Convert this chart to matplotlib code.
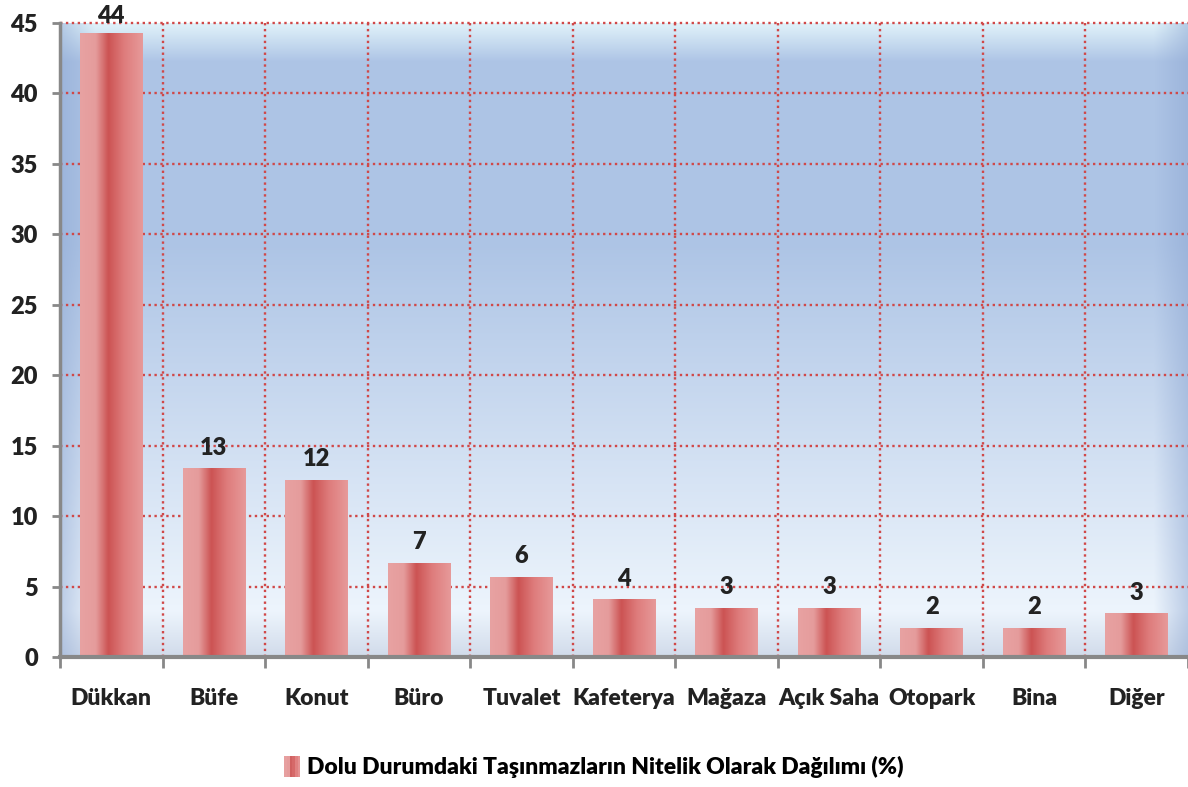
import numpy as np
import matplotlib
matplotlib.use("Agg")
import matplotlib.pyplot as plt
from matplotlib.colors import LinearSegmentedColormap
from matplotlib.patches import Rectangle
from matplotlib.legend_handler import HandlerBase

categories = ["Dükkan", "Büfe", "Konut", "Büro", "Tuvalet", "Kafeterya",
              "Mağaza", "Açık Saha", "Otopark", "Bina", "Diğer"]
values = [44.3, 13.4, 12.6, 6.7, 5.7, 4.1, 3.5, 3.5, 2.1, 2.1, 3.1]
labels = ["44", "13", "12", "7", "6", "4", "3", "3", "2", "2", "3"]
series_name = "Dolu Durumdaki Taşınmazların Nitelik Olarak Dağılımı (%)"

plt.rcParams["font.family"] = ["Lato", "DejaVu Sans"]
plt.rcParams["font.weight"] = "heavy"
W = "heavy"

bar_cmap = LinearSegmentedColormap.from_list(
    "bar", [(0.0, "#e8a2a2"), (0.25, "#e59c9c"), (0.45, "#cc5353"),
            (0.7, "#de7c7c"), (1.0, "#e79a9a")])

fig = plt.figure(figsize=(11.88, 7.87), dpi=100)
ax = fig.add_axes([0.0505, 0.165, 0.9495, 0.8058])

# background gradient of the plot area
ny, nx = 200, 400
top = np.array([0.88, 0.95, 0.98])
mid = np.array([0.68, 0.77, 0.90])
low = np.array([0.93, 0.96, 0.99])
bot = np.array([0.82, 0.86, 0.92])
rows = []
for v in np.linspace(0, 1, ny):
    if v < 0.06:
        c = top + (mid - top) * (v / 0.06)
    elif v < 0.35:
        c = mid
    elif v < 0.93:
        c = mid + (low - mid) * ((v - 0.35) / 0.58)
    else:
        c = low + (bot - low) * ((v - 0.93) / 0.07)
    rows.append(c)
bg = np.repeat(np.array(rows)[:, None, :], nx, axis=1)
xs = np.linspace(0, 1, nx)
edge = np.clip(1 - np.maximum((0.03 - xs) / 0.03, (xs - 0.97) / 0.03), 0, 1)
shade = np.array([0.55, 0.65, 0.82])
w = (1 - edge)[None, :, None] * 0.5
bg = bg * (1 - w) + shade * w
ax.imshow(bg, extent=[-0.5, 10.5, 0, 45], aspect="auto", zorder=0,
          interpolation="bilinear")

x = np.arange(len(categories))
bars = ax.bar(x, values, width=0.61, color="none", zorder=3)
grad = np.linspace(0, 1, 256)[None, :]
for b in bars:
    im = ax.imshow(grad, cmap=bar_cmap, aspect="auto", zorder=3,
                   extent=[b.get_x(), b.get_x() + b.get_width(), 0, b.get_height()])
    im.set_clip_path(b)

ymax = 45
for xi, v, lab in zip(x, values, labels):
    off = 7 if v < 0.9 * ymax else 4  # keep the top label inside the figure
    ax.annotate(lab, (xi, v), xytext=(0, off), textcoords="offset points",
                ha="center", va="bottom", fontsize=17, fontweight=W,
                color="#222222", zorder=5, annotation_clip=False)

ax.set_xlim(-0.5, 10.5)
ax.set_ylim(0, ymax)
ax.set_yticks(np.arange(0, 46, 5))
ax.set_xticks(x)
ax.set_xticklabels(categories, fontsize=16.5, fontweight=W, color="#222222")
ax.set_xticks(np.arange(-0.5, 10.6, 1), minor=True)
ax.tick_params(axis="x", which="major", length=0, pad=22)
ax.tick_params(axis="x", which="minor", length=8, width=2, color="#888888", direction="out")
ax.tick_params(axis="y", length=6, width=2, color="#888888", labelsize=17,
               labelcolor="#222222", pad=10)
for lab in ax.get_yticklabels():
    lab.set_fontweight(W)

ax.grid(False)
for yv in np.arange(5, 46, 5):
    ax.axhline(yv, color="#d04848", lw=1.7, ls=(0, (1, 1.5)), zorder=2, clip_on=False)
for xv in np.arange(0.5, 10.5, 1):
    ax.axvline(xv, color="#d04848", lw=1.7, ls=(0, (1, 1.5)), zorder=2)

for s in ["top", "right"]:
    ax.spines[s].set_visible(False)
ax.spines["left"].set_color("#888888")
ax.spines["left"].set_linewidth(2.5)
ax.spines["bottom"].set_color("#888888")
ax.spines["bottom"].set_linewidth(3)
ax.spines["left"].set_zorder(6)
ax.spines["bottom"].set_zorder(6)


class GradHandler(HandlerBase):
    def create_artists(self, legend, orig_handle, xdescent, ydescent,
                       width, height, fontsize, trans):
        n = 6
        arts = []
        for i in range(n):
            r = Rectangle((xdescent + i * width / n, -ydescent - height * 0.15),
                          width / n, height * 1.3,
                          facecolor=bar_cmap((i + 0.5) / n), edgecolor="none",
                          transform=trans)
            arts.append(r)
        return arts


handle = Rectangle((0, 0), 1, 1)
fig.legend([handle], [series_name], handler_map={Rectangle: GradHandler()},
           loc="center", bbox_to_anchor=(0.5, 0.025), frameon=False,
           handlelength=0.7, handletextpad=0.3,
           prop={"weight": W, "size": 16.5})

fig.savefig("out.png", dpi=100)
